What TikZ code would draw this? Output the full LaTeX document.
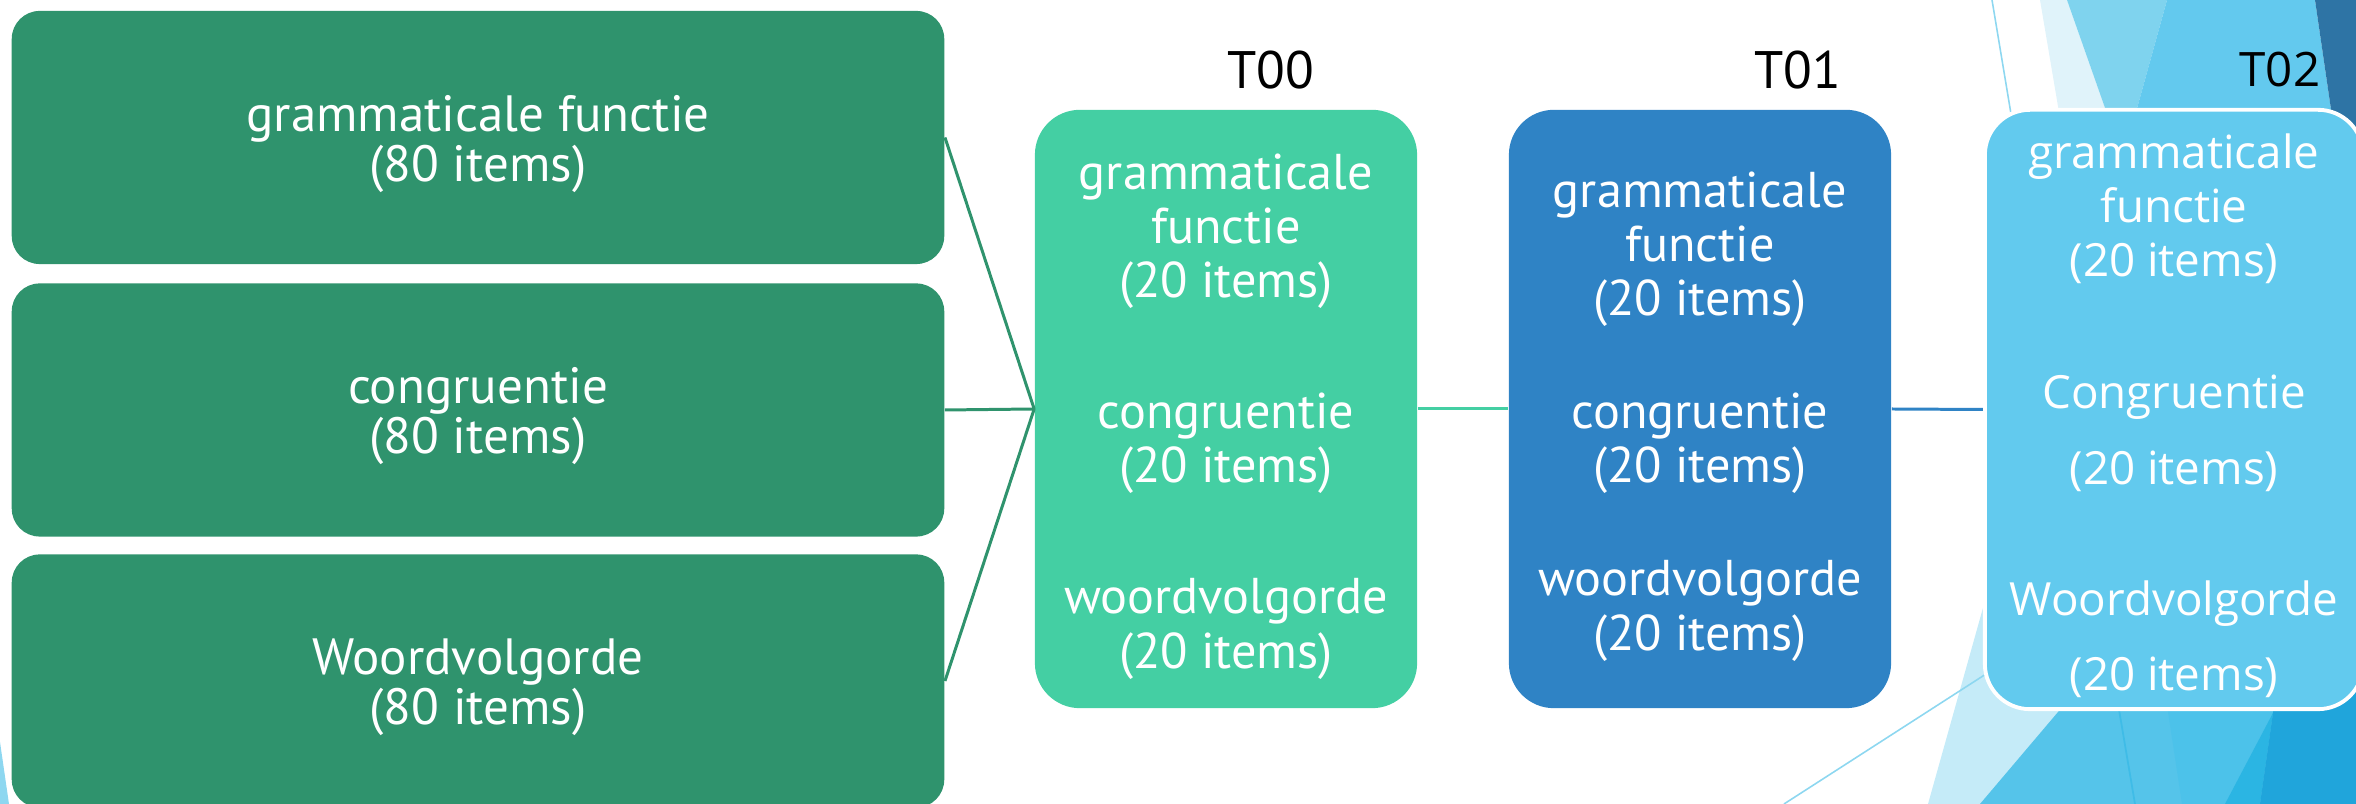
\documentclass[tikz,border=0pt]{standalone}
\usepackage{fontspec}
\setmainfont{PT Sans}
\newfontfamily\widefont{Open Sans}
\usepackage{tikz}
\usepackage{xcolor}

\definecolor{itemgreen}{HTML}{2F936D}
\definecolor{tgreen}{HTML}{44CFA3}
\definecolor{tblue}{HTML}{2F83C5}
\definecolor{tsky}{HTML}{62CAEE}
\definecolor{facetpale}{HTML}{E0F3FA}
\definecolor{facetmid}{HTML}{7FD3EE}
\definecolor{facetmain}{HTML}{63C9EE}
\definecolor{facetdark}{HTML}{2E74A5}
\definecolor{facetline}{HTML}{8DD7F0}
\definecolor{facetlight}{HTML}{C5EBF8}
\definecolor{facetsea}{HTML}{55C4EA}
\definecolor{facetsea2}{HTML}{4CC2EA}
\definecolor{facetseam}{HTML}{3FBCE7}
\definecolor{facetcyan}{HTML}{2BB5E3}
\definecolor{facetdeep}{HTML}{20A5DB}

% taller first line, so the text block sits a little lower in its box
\newcommand{\firstline}[1]{\rule{0pt}{#1}}

\begin{document}
\begin{tikzpicture}[x=0.01cm,y=-0.01cm,
  bigbox/.style={fill=itemgreen, rounded corners=0.28cm, minimum width=9.32cm,
    minimum height=2.53cm, inner sep=0pt, text=white, align=center,
    font=\fontsize{14.5}{14.2}\selectfont},
  tbox/.style={rounded corners=0.45cm, minimum width=3.82cm, minimum height=5.98cm,
    inner sep=0pt, text=white, align=center, font=\fontsize{14.3}{15.4}\selectfont},
  tlabel/.style={font=\fontsize{15}{16}\selectfont}]
\useasboundingbox (0,0) rectangle (2356,804);

% background facets
\fill[facetpale] (2040,0) -- (2067,0) -- (2113,130) -- (2062,130) -- cycle;
\fill[facetmid] (2067,0) -- (2167,0) -- (2123,159) -- cycle;
\fill[facetmain] (2167,0) -- (2315,0) -- (2334,130) -- (2131,130) -- cycle;
\fill[facetdark] (2315,0) -- (2356,0) -- (2356,130) -- (2334,130) -- cycle;
\draw[facetline, line width=0.45pt] (1992,0) -- (2017,150);

\fill[facetlight] (1928,804) -- (1988,590) -- (2100,590) -- (2100,804) -- cycle;
\fill[facetsea] (1980,804) -- (2075,692) -- (2356,692) -- (2356,804) -- cycle;
\draw[facetseam, line width=0.5pt] (2116,692) -- (2135,804);
\fill[facetsea2] (2165,692) -- (2284,692) -- (2225,804) -- (2182,804) -- cycle;
\fill[facetcyan] (2284,692) -- (2276,692) -- (2260,804) -- (2225,804) -- cycle;
\fill[facetdeep] (2276,692) -- (2356,692) -- (2356,804) -- (2260,804) -- cycle;
\draw[facetline, line width=0.45pt] (1784,804) -- (2000,665);
\fill[facetline] (0,742) -- (9,804) -- (0,804) -- cycle;

% item pools
\node[bigbox] (gram) at (478,137.5) {\firstline{13.8pt}grammaticale functie\\(80 items)};
\node[bigbox] (congr) at (478,410) {\firstline{13.8pt}congruentie\\(80 items)};
\node[bigbox] (woord) at (478,681) {\firstline{13.8pt}Woordvolgorde\\(80 items)};

% the three tests
\node[tbox, fill=tgreen] (t00) at (1226,409) {\firstline{14.3pt}grammaticale\\functie\\(20 items)\\[21.9pt]
  congruentie\\(20 items)\\[21.9pt]woordvolgorde\\(20 items)};
\node[tbox, fill=tblue] (t01) at (1700,409) {\firstline{14.3pt}grammaticale\\functie\\(20 items)\\[16.8pt]
  congruentie\\(20 items)\\[16.8pt]woordvolgorde\\(20 items)};
\node[tbox, fill=tsky, draw=white, line width=1.1pt, minimum width=3.78cm, minimum height=5.99cm,
  font=\widefont\fontsize{13}{15.4}\selectfont] (t02) at (2174,409.5)
  {\firstline{13.3pt}grammaticale\\functie\\(20 items)\\[22.2pt]Congruentie\\[6.3pt](20 items)\\[21.6pt]
  Woordvolgorde\\[6pt](20 items)};

\node[tlabel] (lab00) at (1271,70) {T00};
\node[tlabel] (lab01) at (1798,70) {T01};
\node[tlabel, font=\widefont\fontsize{13.5}{16}\selectfont] (lab02) at (2280,70) {T02};

% connectors
\draw[itemgreen, line width=0.85pt] (gram.east) -- (t00.west);
\draw[itemgreen, line width=0.85pt] (congr.east) -- (t00.west);
\draw[itemgreen, line width=0.85pt] (woord.east) -- (t00.west);
\draw[tgreen, line width=0.85pt] (t00.east) -- (t01.west);
\draw[tblue, line width=0.85pt] (t01.east) -- (t02.west);
\end{tikzpicture}
\end{document}
